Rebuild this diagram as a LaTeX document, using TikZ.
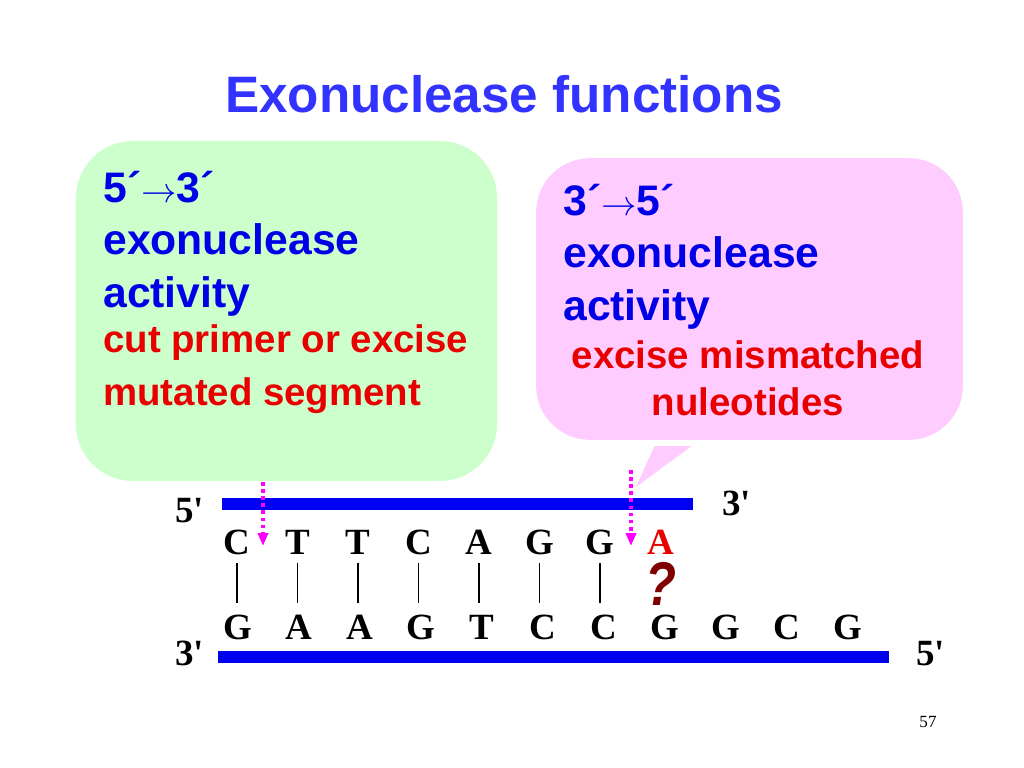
\documentclass[tikz,border=0pt]{standalone}
\usepackage{fontspec}
\setmainfont{Liberation Serif}[Ligatures=TeXOff]
\setsansfont{Liberation Sans}
\usetikzlibrary{positioning, arrows.meta, calc}

\definecolor{titleblue}{RGB}{51,51,255}
\definecolor{headblue}{RGB}{0,0,230}
\definecolor{notered}{RGB}{232,0,0}
\definecolor{boxgreen}{RGB}{204,255,204}
\definecolor{boxpink}{RGB}{255,204,255}
\definecolor{strandblue}{RGB}{0,0,240}
\definecolor{cutpink}{RGB}{255,0,255}
\definecolor{qred}{RGB}{128,0,0}

\newcommand{\dirarrow}{\ensuremath{\rightarrow}}

\begin{document}
\begin{tikzpicture}[
        x=0.703pt, y=-0.703pt,
        bubble/.style={rectangle, rounded corners=40pt, inner sep=0pt},
        headtxt/.style={font=\sffamily\bfseries\fontsize{30}{36.8}\selectfont, text=headblue, align=left, inner sep=0pt, anchor=base west},
        notetxt/.style={font=\sffamily\bfseries\fontsize{27}{37}\selectfont, text=notered, inner sep=0pt, anchor=base west},
        nucl/.style={font=\bfseries\fontsize{26}{30}\selectfont, inner sep=0pt, anchor=base},
        endtxt/.style={font=\bfseries\fontsize{26}{30}\selectfont, inner sep=0pt, anchor=base west},
        strand/.style={strandblue, line width=7.8pt},
        pair/.style={line width=1.3pt, shorten <=6pt, shorten >=8pt},
        cut/.style={cutpink, line width=2.6pt, dash pattern=on 2.6pt off 2.4pt, -{Triangle[length=9pt, width=7pt]}},
    ]
        \fill[white] (0,0) rectangle (1024,768);
        \useasboundingbox (0,0) rectangle (1024,768);

        \node[font=\sffamily\bfseries\fontsize{36}{40}\selectfont, text=titleblue, anchor=base] (title) at (504,112) {Exonuclease functions};

        % the two balloons
        \node[bubble, fill=boxgreen, minimum width=296pt, minimum height=239pt] (green) at (286.5,311) {};
        \node[bubble, fill=boxpink, rounded corners=38pt, minimum width=300pt, minimum height=198pt] (pink) at (749.5,299) {};
        \coordinate (tailtip) at (636,487);
        \fill[boxpink] ($(pink.south)+(-95,6)$) -- (tailtip) -- ($(pink.south)+(-58,6)$) -- cycle;

        % base anchor of a multi-line node = last line
        \node[headtxt] (lefthead) at (103,307) {5´\dirarrow3´\\exonuclease\\activity};
        \node[notetxt, align=left] (leftnote) at (103,405) {cut primer or excise\\mutated segment};

        \node[headtxt] (righthead) at (563,320) {3´\dirarrow5´\\exonuclease\\activity};
        \node[notetxt, align=center, anchor=base, font=\sffamily\bfseries\fontsize{27}{33}\selectfont] (rightnote) at (748,415) {excise mismatched\\nuleotides};

        % DNA strands
        \coordinate (top5) at (222,504);
        \coordinate (top3) at (693,504);
        \coordinate (bot3) at (218,657);
        \coordinate (bot5) at (889,657);
        \draw[strand] (top5) -- (top3);
        \draw[strand] (bot3) -- (bot5);

        \node[endtxt] (lbl5a) at (175,522) {5'};
        \node[endtxt] (lbl3a) at (722,515) {3'};
        \node[endtxt] (lbl3b) at (175,665) {3'};
        \node[endtxt] (lbl5b) at (916,665) {5'};

        \foreach \c [count=\i] in {C,T,T,C,A,G,G}
            \node[nucl] (t\i) at ({237+60.5*(\i-1)},554) {\c};
        \node[nucl, text=notered] (t8) at (660.5,554) {A};

        \foreach \c [count=\i] in {G,A,A,G,T,C,C,G,G,C,G}
            \node[nucl] (b\i) at ({238+61*(\i-1)},639) {\c};

        \foreach \i in {1,...,7}
            \draw[pair] (t\i.south) -- (t\i.south |- b\i.north);

        \node[text=qred, font=\sffamily\bfseries\itshape\fontsize{31}{34}\selectfont, inner sep=0pt] (qmark) at (661,584) {\scalebox{1.15}[1.4]{?}};

        % exonuclease cut sites
        \coordinate (cutL) at (263,482);
        \coordinate (cutLend) at (263,546);
        \coordinate (cutR) at (631,470);
        \coordinate (cutRend) at (631,546);
        \draw[cut] (cutL) -- (cutLend);
        \draw[cut] (cutR) -- (cutRend);

        \node[font=\fontsize{12}{14}\selectfont, anchor=base] (pageno) at (928,727) {57};
    \end{tikzpicture}
\end{document}
